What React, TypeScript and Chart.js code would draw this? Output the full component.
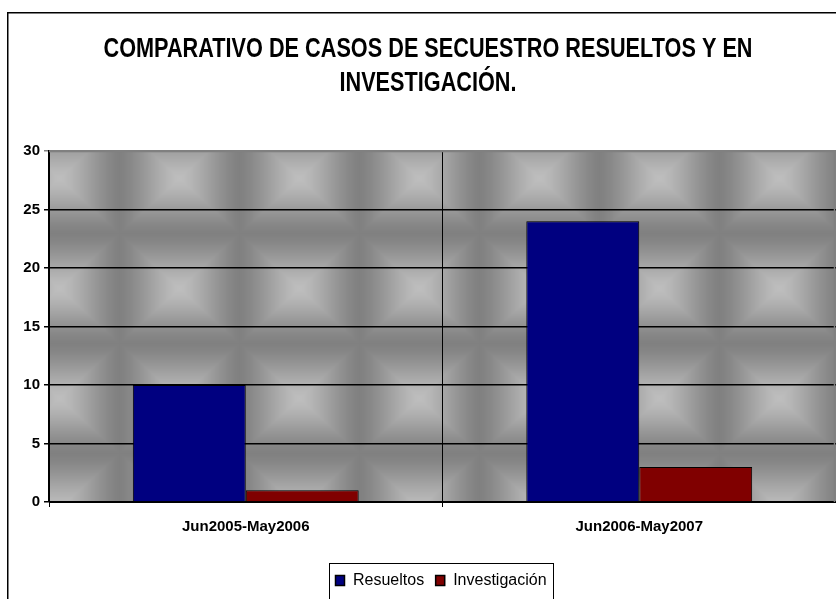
import React, { useEffect, useRef } from 'react';
import { Chart, registerables } from 'chart.js';
Chart.register(...registerables);

const categories = ['Jun2005-May2006', 'Jun2006-May2007'];
const resueltos = [10, 24];
const investigacion = [1, 3];
const seriesNames = ['Resueltos', 'Investigación'];
const seriesColors = ['#000080', '#800000'];
const titleLines = ['COMPARATIVO DE CASOS DE SECUESTRO RESUELTOS Y EN', 'INVESTIGACIÓN.'];
const yMin = 0;
const yMax = 30;
const yStep = 5;

function makePattern(w: number, h: number): HTMLCanvasElement {
  const c = document.createElement('canvas');
  c.width = Math.max(1, Math.round(w));
  c.height = Math.max(1, Math.round(h));
  const g = c.getContext('2d')!;
  const img = g.createImageData(c.width, c.height);
  const PW = 120, PH = 110, OX = 10, OY = 27;
  for (let y = 0; y < c.height; y++) {
    const v = (((y - OY) % PH) + PH) % PH;
    const dy = (v <= PH / 2 ? v : PH - v) / (PH / 2);
    for (let x = 0; x < c.width; x++) {
      const u = (((x - OX) % PW) + PW) % PW;
      const dx = (u <= PW / 2 ? u : PW - u) / (PW / 2);
      const d = Math.max(dx, dy);
      const s = 0.5 * d + 0.5 * d * d * (3 - 2 * d);
      const b = Math.round(190 - 62 * s);
      const i = (y * c.width + x) * 4;
      img.data[i] = b; img.data[i + 1] = b; img.data[i + 2] = b; img.data[i + 3] = 255;
    }
  }
  g.putImageData(img, 0, 0);
  return c;
}

const decorPlugin = {
  id: 'decor',
  beforeDraw(chart: any) {
    const ctx = chart.ctx;
    const a = chart.chartArea;
    ctx.save();
    ctx.fillStyle = '#fff';
    ctx.fillRect(0, 0, chart.width, chart.height);
    ctx.strokeStyle = '#000';
    ctx.lineWidth = 1.5;
    ctx.strokeRect(7.75, 12.75, chart.width + 20, chart.height + 20);
    const pat = makePattern(a.right - a.left, a.bottom - a.top);
    ctx.drawImage(pat, a.left, a.top);
    ctx.restore();
  },
  afterDraw(chart: any) {
    const ctx = chart.ctx;
    const a = chart.chartArea;
    ctx.save();
    ctx.strokeStyle = '#808080';
    ctx.lineWidth = 1.5;
    ctx.beginPath();
    ctx.moveTo(a.left, a.top + 0.5);
    ctx.lineTo(a.right - 1.5, a.top + 0.5);
    ctx.lineTo(a.right - 1.5, a.bottom);
    ctx.stroke();

    // title
    ctx.fillStyle = '#000';
    ctx.font = 'bold 27px "Liberation Sans Narrow", "Liberation Sans", Arial, sans-serif';
    ctx.textBaseline = 'alphabetic';
    ctx.textAlign = 'center';
    const w0 = ctx.measureText(titleLines[0]).width;
    const sx = 649 / w0;
    const baselines = [57, 91];
    titleLines.forEach((t, i) => {
      ctx.save();
      ctx.translate(428, baselines[i]);
      ctx.scale(sx, 1);
      ctx.fillText(t, 0, 0);
      ctx.restore();
    });

    // legend
    const lx = 329, ly = 563, lw = 224, lh = 36;
    ctx.fillStyle = '#fff';
    ctx.fillRect(lx, ly, lw, lh);
    ctx.strokeStyle = '#000';
    ctx.lineWidth = 1;
    ctx.strokeRect(lx + 0.5, ly + 0.5, lw, lh);
    ctx.font = '16px "Liberation Sans", Arial, sans-serif';
    ctx.textAlign = 'left';
    ctx.textBaseline = 'middle';
    let x = lx + 6;
    const cy = ly + 17;
    seriesNames.forEach((n, i) => {
      ctx.fillStyle = seriesColors[i];
      ctx.fillRect(x, cy - 5, 10, 11);
      ctx.strokeStyle = '#000';
      ctx.lineWidth = 1.5;
      ctx.strokeRect(x + 0.5, cy - 5 + 0.5, 9, 10);
      x += 10 + 8;
      ctx.fillStyle = '#000';
      ctx.fillText(n, x, cy + 1);
      x += ctx.measureText(n).width + 11;
    });
    ctx.restore();
  },
};

export default function App() {
  const ref = useRef<HTMLCanvasElement | null>(null);
  useEffect(() => {
    document.body.style.margin = '0';
    const canvas = ref.current!;
    const chart = new Chart(canvas, {
      type: 'bar',
      data: {
        labels: categories,
        datasets: [
          { label: seriesNames[0], data: resueltos, backgroundColor: seriesColors[0], borderColor: '#000', borderWidth: 1, categoryPercentage: 0.574, barPercentage: 1 },
          { label: seriesNames[1], data: investigacion, backgroundColor: seriesColors[1], borderColor: '#000', borderWidth: 1, categoryPercentage: 0.574, barPercentage: 1 },
        ],
      },
      options: {
        responsive: false,
        animation: false,
        devicePixelRatio: 1,
        layout: { padding: { left: 0, right: 0, top: 151, bottom: 0 } },
        plugins: { legend: { display: false }, title: { display: false }, tooltip: { enabled: false } },
        scales: {
          x: {
            grid: {
              offset: true,
              drawOnChartArea: true,
              tickLength: 5,
              color: (c: any) => (c.index === 0 || c.index === 1 ? '#000' : 'rgba(0,0,0,0)'),
            },
            border: { display: true, color: '#000', width: 1 },
            ticks: { color: '#000', padding: 11, font: { family: '"Liberation Sans", Arial, sans-serif', size: 15, weight: 'bold' } },
            afterFit: (s: any) => { s.height = 97; },
          },
          y: {
            min: yMin,
            max: yMax,
            ticks: { stepSize: yStep, color: '#000', padding: 4, font: { family: '"Liberation Sans", Arial, sans-serif', size: 15, weight: 'bold' } },
            grid: {
              tickLength: 5,
              color: (c: any) => (c.tick && c.tick.value === yMax ? '#808080' : '#000'),
              lineWidth: 1.5,
            },
            border: { display: true, color: '#000', width: 1.5 },
            afterFit: (s: any) => { s.width = 49; },
          },
        },
      },
      plugins: [decorPlugin],
    } as any);
    return () => chart.destroy();
  }, []);
  return <canvas ref={ref} width={836} height={599} style={{ display: 'block' }} />;
}
